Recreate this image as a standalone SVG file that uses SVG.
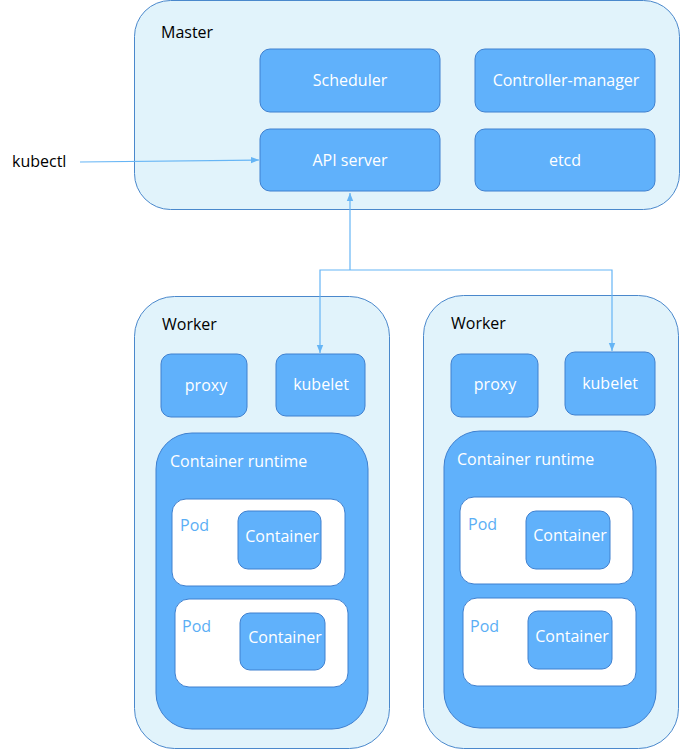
<svg xmlns="http://www.w3.org/2000/svg" width="680" height="750" viewBox="0 0 680 750">
<defs>
<style>
.grp{fill:#e1f3fb;stroke:#4a88cc;stroke-width:1}
.node{fill:#60b1fb;stroke:#3f80cf;stroke-width:1}
.pod{fill:#ffffff;stroke:#3f80cf;stroke-width:1}
.lbl{font-family:"Open Sans","Noto Sans",sans-serif;font-size:16px;fill:#000}
.wt{font-family:"Open Sans","Noto Sans",sans-serif;font-size:16px;fill:#ffffff;text-anchor:middle}
.wl{font-family:"Open Sans","Noto Sans",sans-serif;font-size:16px;fill:#ffffff}
.pl{font-family:"Open Sans","Noto Sans",sans-serif;font-size:16px;fill:#5aaef5}
.conn{fill:none;stroke:#66b5f5;stroke-width:1.2}
</style>
<marker id="ah" viewBox="0 0 10 10" refX="10" refY="5" markerWidth="8" markerHeight="8" orient="auto" markerUnits="userSpaceOnUse">
<path d="M0,1 L10,5 L0,9 z" fill="#66b5f5"/>
</marker>
</defs>

<g id="master">
<rect class="grp" x="134.5" y="0.5" width="545" height="209" rx="36"/>
<text class="lbl" x="161" y="38">Master</text>
</g>
<g id="scheduler"><rect class="node" x="260" y="49" width="180" height="63" rx="10"/><text class="wt" x="350" y="86">Scheduler</text></g>
<g id="controller-manager"><rect class="node" x="475" y="49" width="180" height="63" rx="10"/><text class="wt" x="566" y="86">Controller-manager</text></g>
<g id="api-server"><rect class="node" x="260" y="129" width="180" height="62" rx="10"/><text class="wt" x="350" y="166">API server</text></g>
<g id="etcd"><rect class="node" x="475" y="129" width="180" height="62" rx="10"/><text class="wt" x="565" y="166">etcd</text></g>
<g id="kubectl"><text class="lbl" x="12" y="167">kubectl</text></g>

<g id="worker1">
<rect class="grp" x="134.5" y="296.5" width="255" height="452" rx="40"/>
<text class="lbl" x="162" y="330">Worker</text>
</g>
<g id="proxy1"><rect class="node" x="161" y="354" width="86" height="63" rx="10"/><text class="wt" x="206" y="391">proxy</text></g>
<g id="kubelet1"><rect class="node" x="276" y="354" width="89" height="62" rx="10"/><text class="wt" x="321" y="390">kubelet</text></g>
<g id="runtime1">
<rect class="node" x="156" y="433" width="212" height="296" rx="36"/>
<text class="wl" x="170" y="467">Container runtime</text>
</g>
<g id="pod1a"><rect class="pod" x="172" y="499" width="173" height="87" rx="14"/><text class="pl" x="180" y="531">Pod</text></g>
<g id="container1a"><rect class="node" x="238" y="511" width="83" height="58" rx="10"/><text class="wt" x="282" y="542">Container</text></g>
<g id="pod1b"><rect class="pod" x="175" y="599" width="173" height="88" rx="14"/><text class="pl" x="182" y="632">Pod</text></g>
<g id="container1b"><rect class="node" x="240" y="613" width="85" height="57" rx="10"/><text class="wt" x="285" y="643">Container</text></g>

<g id="worker2">
<rect class="grp" x="423.5" y="295.5" width="255" height="453" rx="40"/>
<text class="lbl" x="451" y="329">Worker</text>
</g>
<g id="proxy2"><rect class="node" x="451" y="354" width="87" height="63" rx="10"/><text class="wt" x="495" y="390">proxy</text></g>
<g id="kubelet2"><rect class="node" x="565" y="352" width="90" height="63" rx="10"/><text class="wt" x="610" y="389">kubelet</text></g>
<g id="runtime2">
<rect class="node" x="444" y="431" width="212" height="297" rx="36"/>
<text class="wl" x="457" y="465">Container runtime</text>
</g>
<g id="pod2a"><rect class="pod" x="460" y="497" width="173" height="87" rx="14"/><text class="pl" x="468" y="530">Pod</text></g>
<g id="container2a"><rect class="node" x="526" y="511" width="84" height="58" rx="10"/><text class="wt" x="570" y="541">Container</text></g>
<g id="pod2b"><rect class="pod" x="463" y="598" width="173" height="88" rx="14"/><text class="pl" x="470" y="632">Pod</text></g>
<g id="container2b"><rect class="node" x="528" y="611" width="84" height="58" rx="10"/><text class="wt" x="572" y="642">Container</text></g>

<g id="connectors">
<path class="conn" d="M80,162 L259,160" marker-end="url(#ah)"/>
<path class="conn" d="M350,270 L350,193" marker-end="url(#ah)"/>
<path class="conn" d="M350,270 L320,270 L320,353" marker-end="url(#ah)"/>
<path class="conn" d="M350,270 L612,270 L612,351" marker-end="url(#ah)"/>
</g>
</svg>
